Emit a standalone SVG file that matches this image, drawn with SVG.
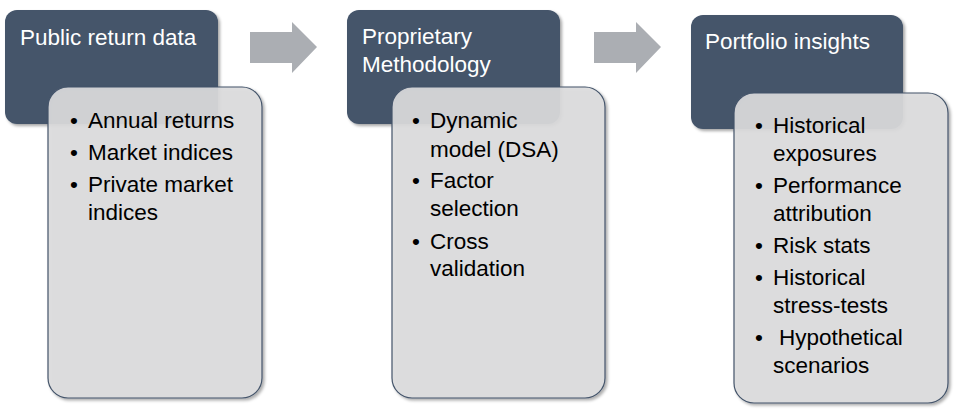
<svg xmlns="http://www.w3.org/2000/svg" width="957" height="414" viewBox="0 0 957 414">
<defs>
<filter id="sh" x="-10%" y="-10%" width="125%" height="125%">
<feDropShadow dx="2" dy="2" stdDeviation="1.8" flood-color="#000" flood-opacity="0.35"/>
</filter>
<style>
.hd{fill:#44546A;filter:url(#sh)}
.lt{fill:#DDDDDE;fill-opacity:0.9;stroke:#44546A;stroke-width:1.2;filter:url(#sh)}
.arr{fill:#ABAEB3}
text{font-family:"Liberation Sans",Arial,sans-serif;font-size:22.5px}
.ht{fill:#FFFFFF}
.bt{fill:#000000}
</style>
</defs>
<g id="connectors">
<polygon class="arr" points="250,32 292,32 292,22 317,47 292,73 292,63 250,63"/>
<polygon class="arr" points="594,32 636,32 636,22 661,47 636,73 636,63 594,63"/>
</g>
<g id="node1">
<rect class="hd" x="5" y="10" width="213" height="114" rx="12"/>
<text class="ht" x="20" y="45">Public return data</text>
<rect class="lt" x="48" y="87" width="214" height="311" rx="20"/>
<text class="bt" x="70" y="128">•</text><text class="bt" x="88" y="128">Annual returns</text>
<text class="bt" x="70" y="160">•</text><text class="bt" x="88" y="160">Market indices</text>
<text class="bt" x="70" y="192">•</text><text class="bt" x="88" y="192">Private market</text>
<text class="bt" x="88" y="220">indices</text>
</g>
<g id="node2">
<rect class="hd" x="347" y="10" width="213" height="114" rx="12"/>
<text class="ht" x="362" y="44">Proprietary</text>
<text class="ht" x="362" y="72">Methodology</text>
<rect class="lt" x="392" y="87" width="213" height="311" rx="20"/>
<text class="bt" x="412" y="128">•</text><text class="bt" x="430" y="128">Dynamic</text>
<text class="bt" x="430" y="157">model (DSA)</text>
<text class="bt" x="412" y="188">•</text><text class="bt" x="430" y="188">Factor</text>
<text class="bt" x="430" y="216">selection</text>
<text class="bt" x="412" y="249">•</text><text class="bt" x="430" y="249">Cross</text>
<text class="bt" x="430" y="276">validation</text>
</g>
<g id="node3">
<rect class="hd" x="691" y="15" width="212" height="114" rx="12"/>
<text class="ht" x="705" y="49">Portfolio insights</text>
<rect class="lt" x="734" y="93" width="214" height="310" rx="20"/>
<text class="bt" x="755" y="133">•</text><text class="bt" x="773" y="133">Historical</text>
<text class="bt" x="773" y="161">exposures</text>
<text class="bt" x="755" y="193">•</text><text class="bt" x="773" y="193">Performance</text>
<text class="bt" x="773" y="221">attribution</text>
<text class="bt" x="755" y="253">•</text><text class="bt" x="773" y="253">Risk stats</text>
<text class="bt" x="755" y="285">•</text><text class="bt" x="773" y="285">Historical</text>
<text class="bt" x="773" y="313">stress-tests</text>
<text class="bt" x="755" y="345">•</text><text class="bt" x="779" y="345">Hypothetical</text>
<text class="bt" x="773" y="373">scenarios</text>
</g>
</svg>
